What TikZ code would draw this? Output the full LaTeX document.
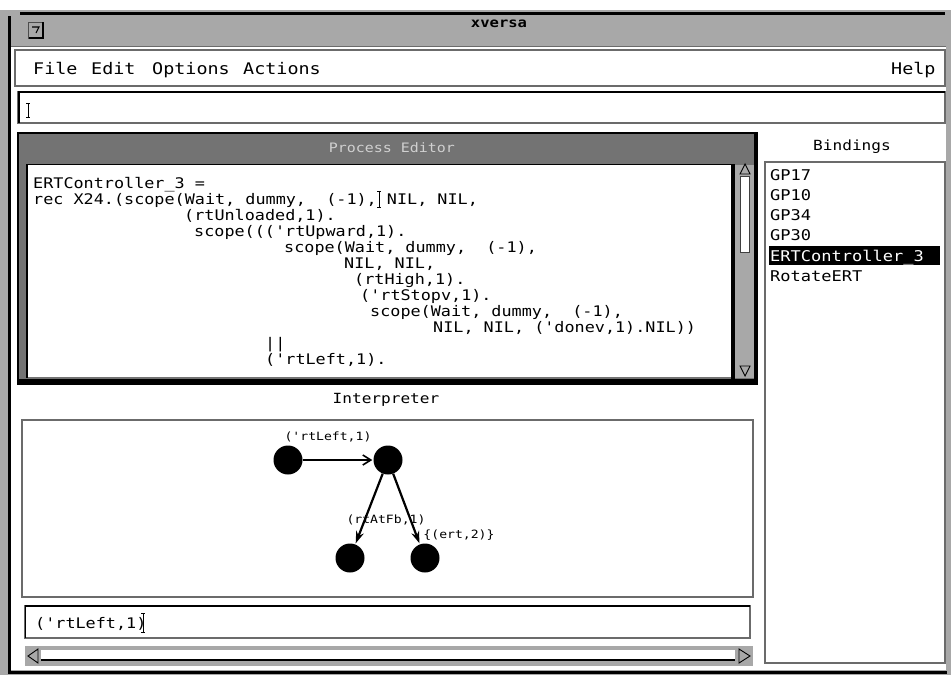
\documentclass[tikz,border=0pt]{standalone}
\usepackage{fontspec}
\newfontfamily\mono[FakeStretch=1.15]{DejaVu Sans Mono}
\usetikzlibrary{arrows.meta}
\definecolor{stip}{gray}{0.66}
\definecolor{stipdark}{gray}{0.45}
\definecolor{panelline}{gray}{0.42}
\begin{document}
\begin{tikzpicture}[x=1pt,y=-1pt,
  code/.style={anchor=base west, inner sep=0pt, font=\mono\fontsize{14.6}{16}\selectfont},
  menutext/.style={anchor=base west, inner sep=0pt, font=\mono\fontsize{16}{18}\selectfont},
  label/.style={anchor=base, inner sep=0pt, font=\mono\fontsize{14}{16}\selectfont},
  bind/.style={anchor=base west, inner sep=0pt, font=\mono\fontsize{14.8}{16}\selectfont},
  glabel/.style={inner sep=0pt, font=\mono\fontsize{11.4}{13}\selectfont},
  panel/.style={draw=panelline, line width=1.3pt},
  vtx/.style={circle, fill=black, minimum size=29pt, inner sep=0pt},
  edgeh/.style={line width=2.2pt, -{Straight Barb[length=8pt,width=10pt,line width=1.6pt]}, shorten >=1pt},
  edged/.style={line width=2.2pt, -{Stealth[length=12pt,width=8pt]}, shorten >=1pt},
  arrowglyph/.style={draw=black, line width=0.9pt}
]
\useasboundingbox (0,0) rectangle (951,675);
\fill[white] (0,0) rectangle (951,675);
% ---------- window frame ----------
\fill[stip] (0,10) rectangle (951,675);
\fill[white] (11,47) rectangle (946,670);
\draw[line width=3pt] (20,13) -- (945,13);
\draw[line width=3pt] (9,16) -- (9,672) -- (947,672);
\draw[panelline, line width=0.8pt] (11,46) -- (946,46);
% title bar button
\draw[black!70, fill=stip, line width=0.8pt] (28,22) rectangle (43,38);
\draw[line width=1.5pt] (29,38) -- (43,38) -- (43,22);
\draw[line width=1.1pt] (32,27) -- (39,27) -- (36,33);
\node[font=\mono\bfseries\fontsize{13.5}{15}\selectfont, inner sep=0pt] (title) at (499,24) {xversa};
% ---------- menu bar ----------
\draw[panel] (15,50) rectangle (945,86);
\node[menutext] (mfile) at (33,74) {File};
\node[menutext] (medit) at (91,74) {Edit};
\node[menutext] (mopt) at (152,74) {Options};
\node[menutext] (mact) at (243,74) {Actions};
\node[menutext] (mhelp) at (891,74) {Help};
% ---------- command entry ----------
\draw[panel] (18,92) rectangle (945,123);
\draw[line width=2pt] (18,92) -- (945,92);
\draw[line width=1.4pt] (19,92) -- (19,123);
\draw[line width=0.9pt] (28,103) -- (28,117) (26,103) -- (30,103) (26,117) -- (30,117);
% ---------- process editor ----------
\fill[stipdark] (18,133) rectangle (757,384);
\draw[black, line width=1.2pt] (18,133) rectangle (757,384);
\draw[line width=4pt] (18,381) -- (757,381);
\draw[line width=3pt] (755.5,133) -- (755.5,384);
\node[inner sep=0pt, text=white!82!black, font=\mono\fontsize{13}{15}\selectfont] (pe) at (392,148) {Process Editor};
\fill[white] (27,165) rectangle (731,377);
\draw[line width=1.6pt] (27,164) -- (27,378);
\draw[line width=1.2pt] (27,164.5) -- (731,164.5);
% scrollbar
\fill[stip] (731,165) rectangle (754,378);
\draw[line width=4pt] (733,164) -- (733,379);
\draw[black!75, fill=white, line width=0.8pt] (740,176) rectangle (749,252);
\draw[arrowglyph] (740,174) -- (745,164) -- (750,174) -- cycle;
\draw[arrowglyph] (740,366) -- (750,366) -- (745,376) -- cycle;
% code
\node[code] (c1) at (33,188) {ERTController\_3 =};
\node[code] (c2) at (33,204) {rec X24.(scope(Wait, dummy,~ (-1), NIL, NIL,};
\node[code] (c3) at (184,220) {(rtUnloaded,1).};
\node[code] (c4) at (194,236) {scope((('rtUpward,1).};
\node[code] (c5) at (284,252) {scope(Wait, dummy,~ (-1),};
\node[code] (c6) at (344,268) {NIL, NIL,};
\node[code] (c7) at (354,284) {(rtHigh,1).};
\node[code] (c8) at (360,300) {('rtStopv,1).};
\node[code] (c9) at (370,316) {scope(Wait, dummy,~ (-1),};
\node[code] (c10) at (433,332) {NIL, NIL, ('donev,1).NIL))};
\node[code] (c11) at (265,348) {||};
\node[code] (c12) at (265,364) {('rtLeft,1).};
\draw[line width=0.9pt] (379,191) -- (379,207) (377,191) -- (381,191) (377,207) -- (381,207);
% ---------- bindings ----------
\node[label] (bindlbl) at (852,150) {Bindings};
\draw[panel, line width=1.6pt] (765,162) rectangle (945,663);
\fill[black] (769,246) rectangle (940,265);
\node[bind] (b1) at (770,180) {GP17};
\node[bind] (b2) at (770,200) {GP10};
\node[bind] (b3) at (770,220) {GP34};
\node[bind] (b4) at (770,240) {GP30};
\node[bind, text=white] (b5) at (770,261) {ERTController\_3};
\node[bind] (b6) at (770,281) {RotateERT};
% ---------- interpreter ----------
\node[label] (interp) at (386,403) {Interpreter};
\draw[panel] (22,420) rectangle (753,597);
\node[vtx] (n1) at (288,460) {};
\node[vtx] (n2) at (388,460) {};
\node[vtx] (n3) at (350,558) {};
\node[vtx] (n4) at (425,558) {};
\draw[edgeh] (n1) -- (n2);
\draw[edged] (n2) -- (n3);
\draw[edged] (n2) -- (n4);
\node[glabel] (l1) at (328,437) {('rtLeft,1)};
\node[glabel] (l2) at (386,520) {(rtAtFb,1)};
\node[glabel] (l3) at (459,535) {\{(ert,2)\}};
% ---------- bottom entry ----------
\draw[panel] (25,606) rectangle (750,638);
\draw[line width=1.3pt] (25,606) -- (750,606);
\draw[line width=1.3pt] (25.5,606) -- (25.5,638);
\node[code] (entry) at (35,628) {('rtLeft,1)};
\draw[line width=0.9pt] (143,613) -- (143,632) (141,613) -- (145,613) (141,632) -- (145,632);
% ---------- horizontal scrollbar ----------
\fill[stip] (25,646) rectangle (753,666);
\fill[white] (41,650) rectangle (735,661);
\draw[line width=2.5pt] (41,660) -- (735,660);
\draw[arrowglyph] (38,649) -- (28,656) -- (38,663) -- cycle;
\draw[arrowglyph] (739,649) -- (750,656) -- (739,663) -- cycle;
\end{tikzpicture}
\end{document}
